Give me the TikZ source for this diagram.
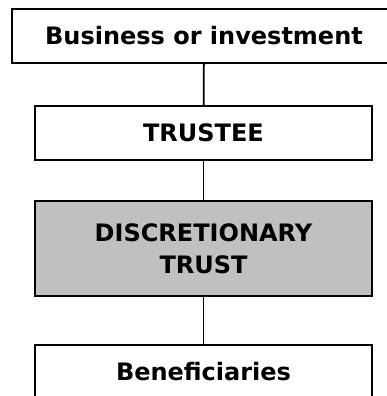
\documentclass[tikz,border=0pt]{standalone}
\usepackage{fontspec}
\setmainfont{DejaVu Sans}
\usepackage{tikz}

\definecolor{trustgrey}{RGB}{192,192,192}

\begin{document}
\begin{tikzpicture}[
		x=1pt, y=-1pt,
		every node/.style={rectangle, draw, line width=2pt, inner sep=0pt, align=center,
			minimum height=54pt, font=\fontsize{24}{32}\selectfont\bfseries},
		level/.style={minimum width=337pt}
	]
  \useasboundingbox (0,0) rectangle (387,396);
  \node (business) [minimum width=384pt] at (204, 36) {Business or investment};
  \node (trustee) [level] at (203.5, 133) {TRUSTEE};
  \node (trust) [level, minimum height=95pt, fill=trustgrey] at (203.5, 248.5) {DISCRETIONARY\\TRUST};
  \node (beneficiaries) [level] at (203.5, 372) {Beneficiaries};
  \draw [line width=1.8pt] (business) -- (trustee);
  \draw [line width=1.8pt] (trustee) -- (trust);
  \draw [line width=1.8pt] (trust) -- (beneficiaries);
\end{tikzpicture}
\end{document}
